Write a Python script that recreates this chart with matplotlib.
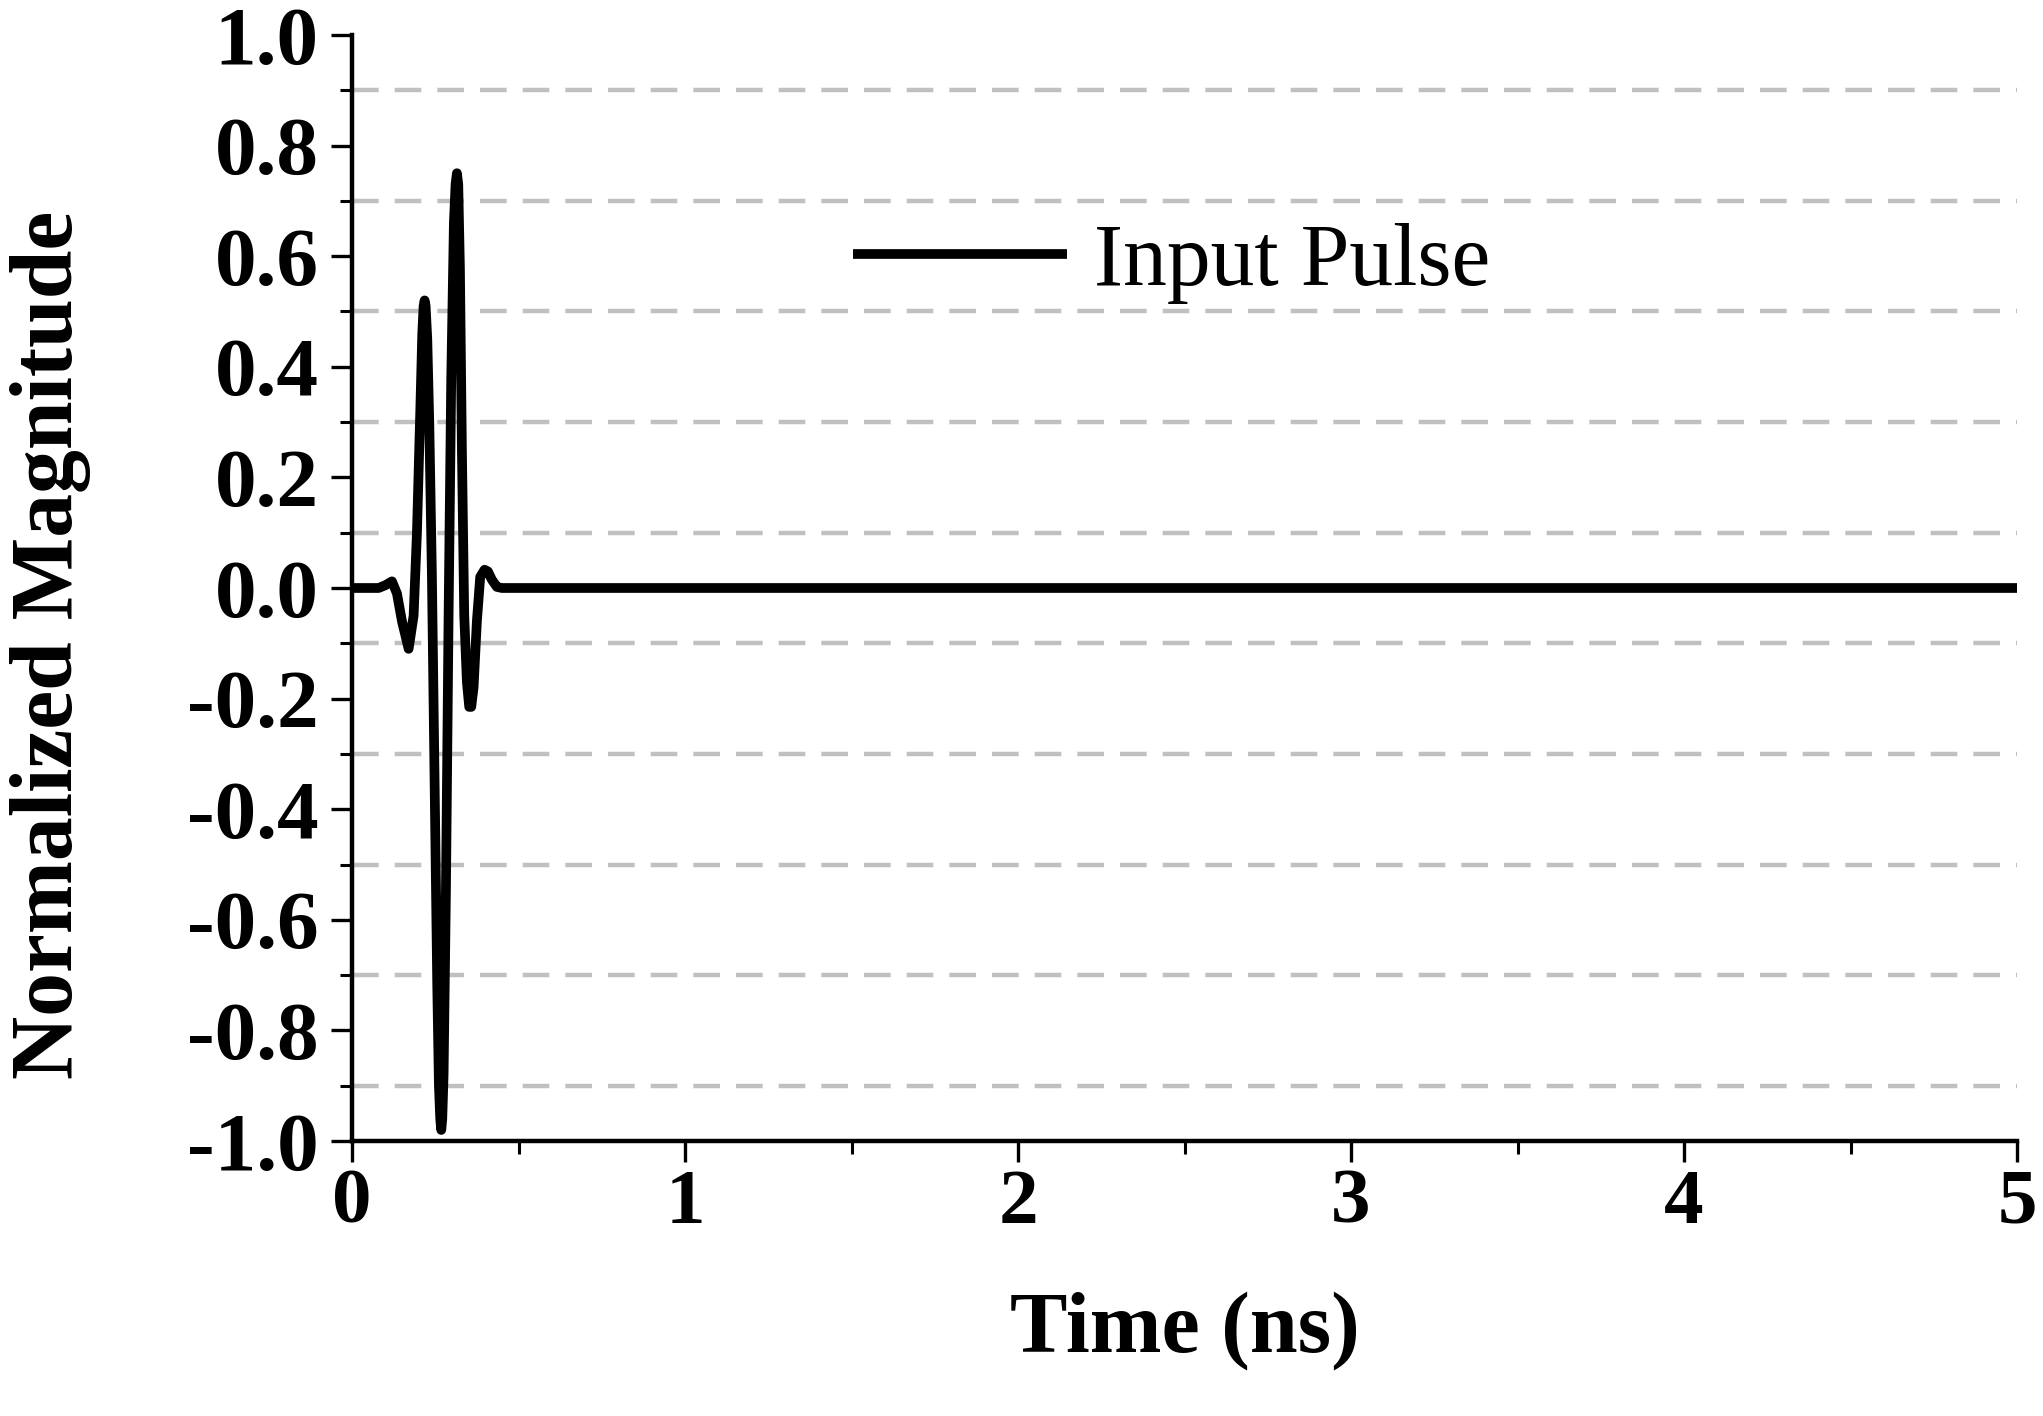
import matplotlib
matplotlib.use("Agg")
import matplotlib.pyplot as plt
from matplotlib.ticker import MultipleLocator

# values (time in ns, normalized magnitude)
time_ns = [0.00, 0.08, 0.10, 0.12, 0.135, 0.15, 0.17, 0.185, 0.195, 0.205,
           0.211, 0.215, 0.218, 0.221, 0.226, 0.232, 0.240, 0.248, 0.256,
           0.261, 0.265, 0.268, 0.271, 0.275, 0.282, 0.290, 0.298, 0.306,
           0.311, 0.315, 0.319, 0.324, 0.330, 0.337, 0.345, 0.352, 0.358,
           0.365, 0.375, 0.385, 0.398, 0.408, 0.420, 0.435, 0.450, 5.00]
magnitude = [0.0, 0.0, 0.005, 0.012, -0.01, -0.06, -0.11, -0.05, 0.10, 0.32,
             0.46, 0.51, 0.52, 0.51, 0.45, 0.30, 0.02, -0.35, -0.72,
             -0.90, -0.96, -0.98, -0.96, -0.88, -0.55, -0.05, 0.38, 0.66,
             0.73, 0.75, 0.73, 0.58, 0.25, -0.05, -0.17, -0.215, -0.215,
             -0.18, -0.06, 0.02, 0.033, 0.03, 0.015, 0.002, 0.0, 0.0]

SERIF = "Liberation Serif"

fig = plt.figure(figsize=(20.43, 14.16), dpi=100)
ax = fig.add_axes([0.1723, 0.1942, 0.815, 0.7811])

ax.plot(time_ns, magnitude, color="black", lw=7, solid_joinstyle="round",
        solid_capstyle="butt", label="Input Pulse", zorder=3)

ax.set_xlim(0, 5)
ax.set_ylim(-1.0, 1.0)
ax.xaxis.set_major_locator(MultipleLocator(1))
ax.xaxis.set_minor_locator(MultipleLocator(0.5))
ax.yaxis.set_major_locator(MultipleLocator(0.2))
ax.yaxis.set_minor_locator(MultipleLocator(0.1))

# dashed grid only on the minor y ticks
for v in [0.9, 0.7, 0.5, 0.3, 0.1, -0.1, -0.3, -0.5, -0.7, -0.9]:
    ax.axhline(v, color="#c0c0c0", lw=3.2, ls=(0, (6, 3.6)), zorder=1)

for s in ["top", "right"]:
    ax.spines[s].set_visible(False)
for s in ["left", "bottom"]:
    ax.spines[s].set_linewidth(3.2)

ax.tick_params(which="major", direction="out", length=15, width=2.4)
ax.tick_params(which="minor", direction="out", length=9, width=2.2)
ax.tick_params(axis="y", which="major", pad=9)
ax.tick_params(axis="x", which="major", pad=5)

ax.set_yticklabels([f"{v:.1f}" for v in ax.get_yticks()])
for lab in ax.get_yticklabels():
    lab.set_fontfamily(SERIF)
    lab.set_fontweight("bold")
    lab.set_fontsize(60)
for lab in ax.get_xticklabels():
    lab.set_fontfamily(SERIF)
    lab.set_fontweight("bold")
    lab.set_fontsize(57)

ax.set_xlabel("Time (ns)", fontfamily=SERIF, fontweight="bold", fontsize=62,
              va="center")
ax.xaxis.set_label_coords(0.5, -0.172)
ax.set_ylabel("Normalized Magnitude", fontfamily=SERIF, fontweight="bold",
              fontsize=63, va="center")
ax.yaxis.set_label_coords(-0.181, 0.449)

fig.legend(loc="center left", bbox_to_anchor=(853 / 2043, 1 - 263 / 1416),
           frameon=False, borderpad=0, borderaxespad=0, handlelength=2.45,
           handletextpad=0.3, prop={"family": SERIF, "size": 63})

fig.savefig("out.png", dpi=100, facecolor="white")
